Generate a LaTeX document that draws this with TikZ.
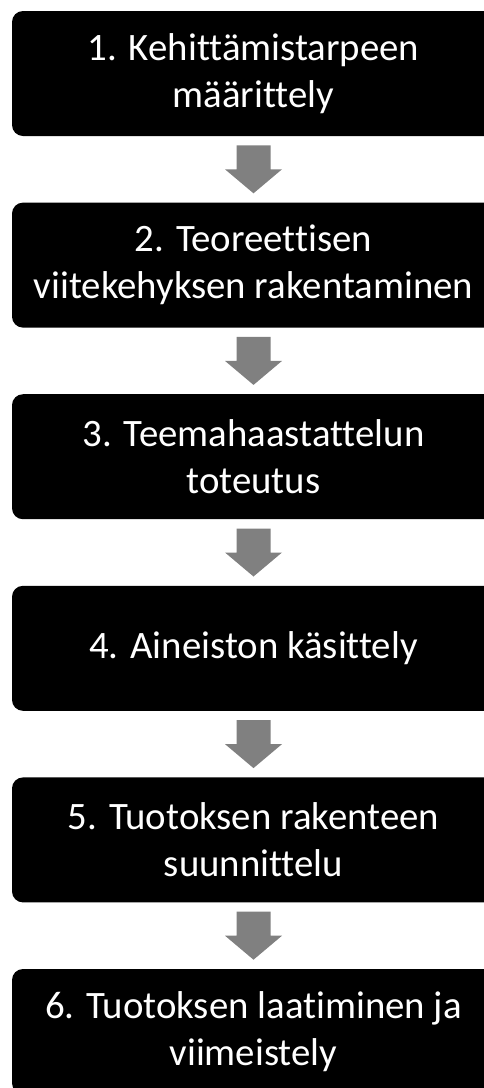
\documentclass[tikz,border=0pt]{standalone}
\usepackage{fontspec}
\setmainfont{Carlito}[Ligatures=NoCommon]
\usetikzlibrary{calc}
\tikzset{
  stage/.style={fill=black, rounded corners=11pt, minimum width=483pt,
    minimum height=125pt, inner sep=0pt, text=white, align=center,
    font=\fontsize{38.8}{47}\selectfont},
  flowarrow/.style={fill=black!50, draw=none}
}
\begin{document}
\begin{tikzpicture}[x=1pt,y=-1pt]
\useasboundingbox (0,0) rectangle (484,1088);
\begin{scope}
\clip (0,0) rectangle (484,1088);
\node[stage] (s1) at (253.5,73.5) {1. Kehittämistarpeen\\määrittely};
\node[stage] (s2) at (253.5,265.1) {2. Teoreettisen\\viitekehyksen rakentaminen};
\node[stage] (s3) at (253.5,456.7) {3. Teemahaastattelun\\toteutus};
\node[stage] (s4) at (253.5,648.3) {4. Aineiston käsittely};
\node[stage] (s5) at (253.5,839.9) {5. Tuotoksen rakenteen\\suunnittelu};
\node[stage] (s6) at (253.5,1031.5) {6. Tuotoksen laatiminen ja\\viimeistely};
\end{scope}
% block arrows between consecutive stages
\foreach \a/\b in {s1/s2,s2/s3,s3/s4,s4/s5,s5/s6}{
  \path let \p1=($(\a.south)!0.5!(\b.north)$) in
    [flowarrow] (\x1-17pt,\y1+24pt) -- (\x1+17pt,\y1+24pt)
    -- (\x1+17pt,\y1) -- (\x1+28.5pt,\y1) -- (\x1,\y1-24pt)
    -- (\x1-28.5pt,\y1) -- (\x1-17pt,\y1) -- cycle;
}
\end{tikzpicture}
\end{document}
